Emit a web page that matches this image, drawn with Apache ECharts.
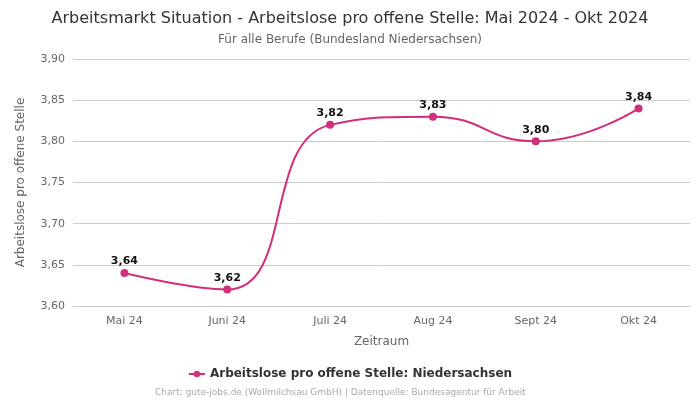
<!DOCTYPE html>
<html><head><meta charset="utf-8">
<script src="https://cdn.jsdelivr.net/npm/echarts@6/dist/echarts.min.js"></script>
<style>html,body{margin:0;padding:0;background:#fff}#c{width:700px;height:400px}</style>
</head><body><div id="c"></div>
<script>
const categories = ["Mai 24","Juni 24","Juli 24","Aug 24","Sept 24","Okt 24"];
const values = [3.64,3.62,3.82,3.83,3.80,3.84];
const seriesName = "Arbeitslose pro offene Stelle: Niedersachsen";
const color = "#d22e7c";
const fmt = v => v.toFixed(2).replace('.', ',');
const chart = echarts.init(document.getElementById('c'));
chart.setOption({
  animation:false,
  title:{text:"Arbeitsmarkt Situation - Arbeitslose pro offene Stelle: Mai 2024 - Okt 2024",
    subtext:"Für alle Berufe (Bundesland Niedersachsen)", left:'center', top:6, itemGap:7,
    textStyle:{fontFamily:'DejaVu Sans',fontSize:16,fontWeight:'normal',color:'#333'},
    subtextStyle:{fontFamily:'DejaVu Sans',fontSize:12,color:'#666'}},
  grid:{left:73,right:10,top:59,bottom:94},
  xAxis:{type:'category',data:categories,boundaryGap:true,name:'Zeitraum',nameLocation:'middle',nameGap:30,
    nameTextStyle:{fontFamily:'DejaVu Sans',fontSize:12,color:'#666'},
    axisLine:{lineStyle:{color:'#ccc'}},axisTick:{show:false},
    axisLabel:{fontFamily:'DejaVu Sans',fontSize:11,color:'#666',margin:10}},
  yAxis:{type:'value',min:3.60,max:3.90,interval:0.05,name:'Arbeitslose pro offene Stelle',nameLocation:'middle',nameGap:46,
    nameTextStyle:{fontFamily:'DejaVu Sans',fontSize:12,color:'#666'},
    axisLabel:{fontFamily:'DejaVu Sans',fontSize:11,color:'#666',formatter:v=>fmt(v)},
    splitLine:{lineStyle:{color:'#ccc'}}},
  legend:{bottom:15,left:'center',itemWidth:16,itemHeight:8,
    textStyle:{fontFamily:'DejaVu Sans',fontSize:12,fontWeight:'bold',color:'#333'}},
  graphic:[{type:'text',left:155,bottom:3,style:{text:'Chart: gute-jobs.de (Wollmilchsau GmbH) | Datenquelle: Bundesagentur für Arbeit',
    fontFamily:'DejaVu Sans',fontSize:9,fill:'#aaa'}}],
  series:[{name:seriesName,type:'line',data:values,smooth:true,symbol:'circle',symbolSize:8,
    itemStyle:{color:color},lineStyle:{color:color,width:2},
    label:{show:true,position:'top',distance:2,formatter:p=>fmt(p.value),fontFamily:'DejaVu Sans',fontSize:11,fontWeight:'bold',color:'#111'}}]
});
</script></body></html>
